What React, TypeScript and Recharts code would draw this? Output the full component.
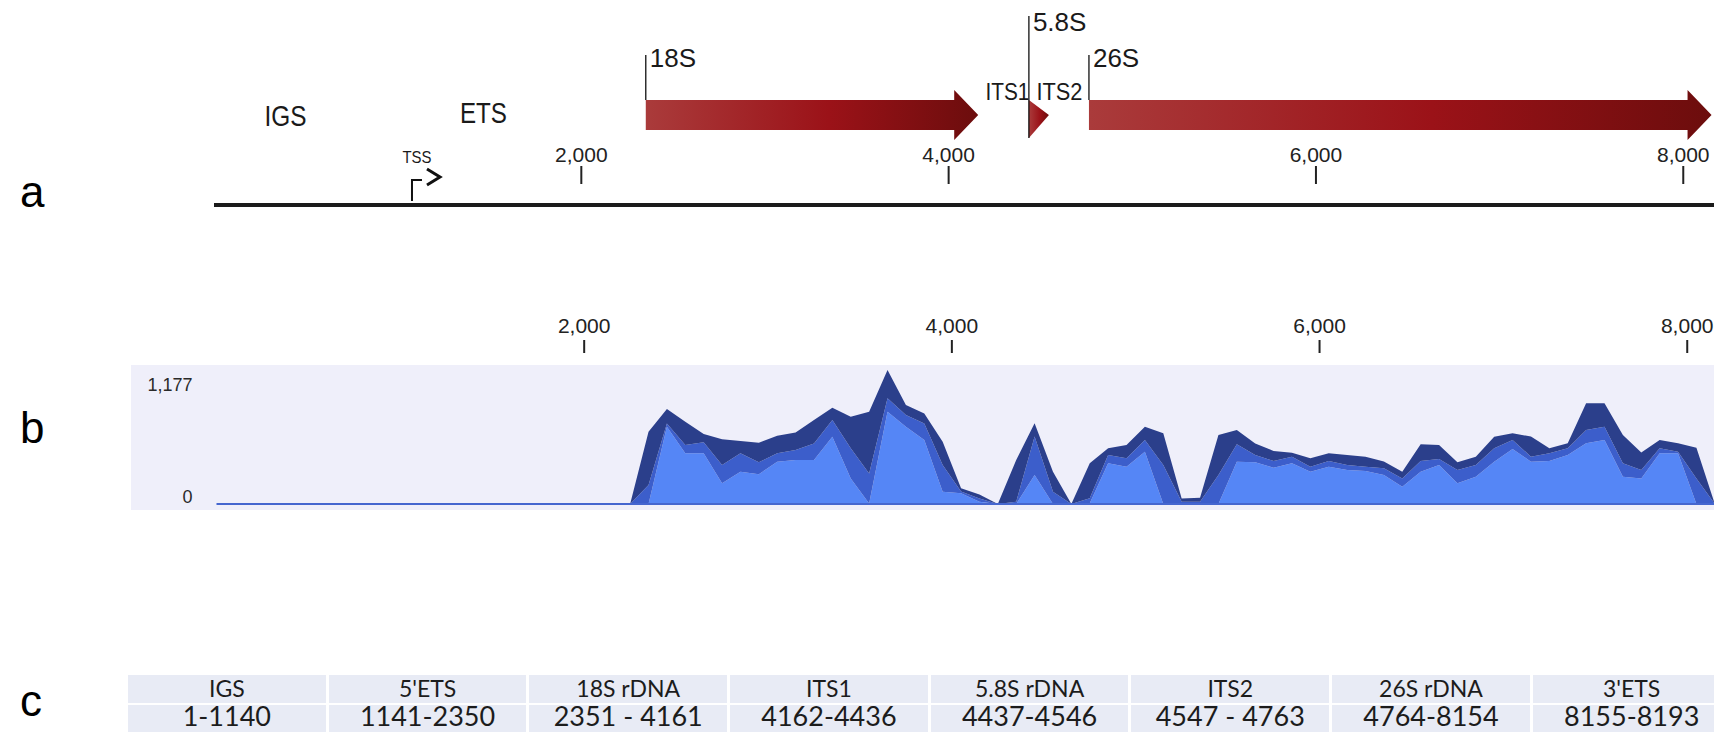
import React from 'react';
import { BarChart, Bar, AreaChart, Area, XAxis, YAxis, ReferenceLine } from 'recharts';

// rDNA unit regions (table c)
const regionNames = ['IGS', "5'ETS", '18S rDNA', 'ITS1', '5.8S rDNA', 'ITS2', '26S rDNA', "3'ETS"];
const regionRanges = ['1-1140', '1141-2350', '2351 - 4161', '4162-4436', '4437-4546', '4547 - 4763', '4764-8154', '8155-8193'];

// genes drawn as arrows (panel a)
const geneNames = ['18S', '5.8S', '26S'];
const geneStarts = [2351, 4437, 4764];
const geneEnds = [4161, 4546, 8154];

// free text markers (panel a)
const markerNames = ['IGS', 'ETS', 'TSS', 'ITS1', 'ITS2'];
const markerPositions = [389, 1467, 1078, 4320, 4603];

const axisTicks = [2000, 4000, 6000, 8000];
const coverageTicks = [0, 1177];

// read coverage (panel b), 100 bp bins
const binPositions = [1, 2250, 2350, 2450, 2550, 2650, 2750, 2850, 2950, 3050, 3150, 3250, 3350, 3450, 3550, 3650, 3750, 3850, 3950, 4050, 4150, 4250, 4350, 4450, 4550, 4650, 4750, 4850, 4950, 5050, 5150, 5250, 5350, 5450, 5550, 5650, 5750, 5850, 5950, 6050, 6150, 6250, 6350, 6450, 6550, 6650, 6750, 6850, 6950, 7050, 7150, 7250, 7350, 7450, 7550, 7650, 7750, 7850, 7950, 8050, 8150];
const lightReads = [0, 0, 0, 679, 445, 445, 182, 284, 261, 372, 386, 386, 591, 225, 5, 811, 679, 562, 108, 94, 20, 0, 0, 255, 0, 0, 6, 357, 328, 460, 0, 0, 0, 0, 372, 366, 319, 357, 284, 328, 299, 290, 255, 152, 284, 343, 182, 240, 372, 483, 372, 378, 430, 533, 562, 240, 225, 445, 445, 0, 0];
const midReads = [0, 0, 167, 29, 73, 97, 161, 161, 105, 73, 88, 146, 146, 264, 264, 117, 102, 146, 234, 15, 29, 0, 20, 337, 108, 0, 44, 73, 73, 102, 343, 20, 20, 255, 152, 64, 59, 59, 44, 50, 44, 38, 59, 73, 94, 53, 117, 102, 117, 79, 44, 67, 59, 117, 117, 117, 73, 44, 15, 225, 0];
const darkReads = [0, 0, 468, 126, 205, 73, 225, 108, 173, 155, 155, 205, 108, 278, 542, 249, 88, 88, 205, 29, 35, 0, 366, 117, 176, 0, 307, 59, 117, 117, 278, 29, 35, 351, 126, 102, 88, 35, 73, 67, 88, 88, 59, 59, 146, 123, 67, 73, 102, 59, 176, 44, 44, 234, 205, 249, 155, 73, 73, 269, 0];

const genes = geneNames.map((name, i) => ({ name, span: [geneStarts[i], geneEnds[i]] }));
const coverage = binPositions.map((pos, i) => ({ pos, light: lightReads[i], mid: midReads[i], dark: darkReads[i] }));

const SANS = "'Liberation Sans', Arial, sans-serif";
const fmt = (v: number) => v.toLocaleString('en-US');

const RulerTick = (props: any) => {
  const { x, y, payload, textLift, top, bottom } = props;
  return (
    <g>
      <text x={x} y={y - textLift} textAnchor="middle" fontSize={21} fontFamily={SANS} fill="#222">
        {fmt(payload.value)}
      </text>
      <line x1={x} x2={x} y1={y - top} y2={y - bottom} stroke="#222" strokeWidth={2} />
    </g>
  );
};

const CountTick = (props: any) => {
  const { x, y, payload } = props;
  return (
    <text x={x} y={payload.value === 0 ? y - 1 : y + 21} textAnchor="end" fontSize={18} fontFamily={SANS} fill="#2a2a2a">
      {fmt(payload.value)}
    </text>
  );
};

const GeneArrow = (props: any) => {
  const { x, width, payload } = props;
  const name = payload.name;
  const x2 = x + width;
  const small = name === '5.8S';
  let d: string;
  if (small) {
    d = `M${x},100 L${x2},115 L${x},138 Z`;
  } else {
    const hx = x2 - 24;
    d = `M${x},100 L${hx},100 L${hx},90 L${x2},115 L${hx},140 L${hx},130 L${x},130 Z`;
  }
  return (
    <g>
      <path d={d} fill="url(#geneFill)" />
      <line x1={x} x2={x} y1={small ? 16 : 55} y2={small ? 138 : 100} stroke="#111" strokeWidth={1.3} />
      <text x={x + 4} y={small ? 31 : 67} fontSize={26} fontFamily={SANS} fill="#1a1a1a">
        {name}
      </text>
    </g>
  );
};

const markerStyle: Record<string, { size: number; base: number; len: number }> = {
  IGS: { size: 29, base: 126, len: 42 },
  ETS: { size: 29, base: 123, len: 47 },
  ITS1: { size: 23, base: 100, len: 44 },
  ITS2: { size: 23, base: 100, len: 46 },
  TSS: { size: 17, base: 163, len: 29 },
};

const MarkerLabel = (props: any) => {
  const { viewBox, name } = props;
  const x = viewBox.x;
  const s = markerStyle[name];
  if (name === 'TSS') {
    return (
      <g>
        <text x={x + 5} y={s.base} textAnchor="middle" fontSize={s.size} fontFamily={SANS} fill="#1a1a1a" textLength={s.len} lengthAdjust="spacingAndGlyphs">
          TSS
        </text>
        <polyline points={`${x},201 ${x},180 ${x + 10},180`} fill="none" stroke="#111" strokeWidth={2} />
        <polyline points={`${x + 15},169 ${x + 28},177 ${x + 15},185`} fill="none" stroke="#111" strokeWidth={3} />
      </g>
    );
  }
  return (
    <text x={x} y={s.base} textAnchor="middle" fontSize={s.size} fontFamily={SANS} fill="#1a1a1a" textLength={s.len} lengthAdjust="spacingAndGlyphs">
      {name}
    </text>
  );
};

export default function App() {
  return (
    <div style={{ position: 'absolute', left: 0, top: 0, width: 1714, height: 732, overflow: 'hidden', background: '#fff' }}>
      <svg width={60} height={732} style={{ position: 'absolute', left: 0, top: 0 }}>
        <text x={20} y={207} fontSize={44} fontFamily={SANS} fill="#000">a</text>
        <text x={20} y={443} fontSize={44} fontFamily={SANS} fill="#000">b</text>
        <text x={20} y={716} fontSize={44} fontFamily={SANS} fill="#000">c</text>
      </svg>

      {/* panel a: gene map */}
      <div style={{ position: 'absolute', left: 0, top: 0 }}>
        <BarChart layout="vertical" width={1720} height={235} data={genes} margin={{ top: 0, right: 0, bottom: 0, left: 214 }}>
          <defs>
            <linearGradient id="geneFill" x1="0" y1="0" x2="1" y2="0">
              <stop offset="0" stopColor="#aa3b3b" />
              <stop offset="0.55" stopColor="#9b1218" />
              <stop offset="1" stopColor="#6c0d0d" />
            </linearGradient>
          </defs>
          <XAxis
            type="number"
            domain={[0, 8200]}
            ticks={axisTicks}
            height={30}
            axisLine={{ stroke: '#1b1b1b', strokeWidth: 4 }}
            tickLine={false}
            tickSize={0}
            tickMargin={0}
            tick={<RulerTick textLift={43} top={39} bottom={21} />}
          />
          <YAxis type="category" dataKey="name" hide />
          {markerNames.map((name, i) => (
            <ReferenceLine key={name} x={markerPositions[i]} stroke="none" label={<MarkerLabel name={name} />} />
          ))}
          <Bar dataKey="span" shape={GeneArrow} isAnimationActive={false} />
        </BarChart>
      </div>

      {/* panel b: coverage */}
      <div style={{ position: 'absolute', left: 131, top: 365, width: 1583, height: 145, background: '#efeffa' }} />
      <div style={{ position: 'absolute', left: 0, top: 300 }}>
        <AreaChart width={1724} height={215} data={coverage} margin={{ top: 40, right: 0, bottom: 11, left: 0 }}>
          <XAxis
            type="number"
            dataKey="pos"
            domain={[0, 8200]}
            orientation="top"
            ticks={axisTicks}
            height={30}
            axisLine={false}
            tickLine={false}
            tickSize={0}
            tickMargin={0}
            tick={<RulerTick textLift={37} top={30} bottom={17} />}
          />
          <YAxis
            type="number"
            domain={[0, 1177]}
            ticks={coverageTicks}
            width={216.5}
            axisLine={false}
            tickLine={false}
            tickSize={0}
            tickMargin={24}
            tick={<CountTick />}
          />
          <Area type="linear" dataKey="light" stackId="cov" fill="#5586f6" fillOpacity={1} stroke="none" isAnimationActive={false} />
          <Area type="linear" dataKey="mid" stackId="cov" fill="#3c5ecb" fillOpacity={1} stroke="none" isAnimationActive={false} />
          <Area type="linear" dataKey="dark" stackId="cov" fill="#2b3f8b" fillOpacity={1} stroke="none" isAnimationActive={false} />
          <ReferenceLine y={0} stroke="#4566cf" strokeWidth={2} />
        </AreaChart>
      </div>

      {/* panel c: region table */}
      <div style={{ position: 'absolute', left: 128, top: 675, display: 'flex', gap: 3, fontFamily: "Lato, 'Open Sans', sans-serif", color: '#1c1c1c', lineHeight: 1 }}>
        {regionNames.map((name, i) => (
          <div key={name} style={{ width: 197.7, display: 'flex', flexDirection: 'column', gap: 2 }}>
            <div style={{ height: 28, background: '#e8ebf5', display: 'flex', alignItems: 'center', justifyContent: 'center', fontSize: 23, whiteSpace: 'nowrap' }}>
              <span style={{ position: 'relative', top: -1 }}>{name}</span>
            </div>
            <div style={{ height: 27, background: '#e8ebf5', display: 'flex', alignItems: 'center', justifyContent: 'center', fontSize: 27, whiteSpace: 'nowrap' }}>
              <span style={{ position: 'relative', top: -3 }}>{regionRanges[i]}</span>
            </div>
          </div>
        ))}
      </div>
    </div>
  );
}
